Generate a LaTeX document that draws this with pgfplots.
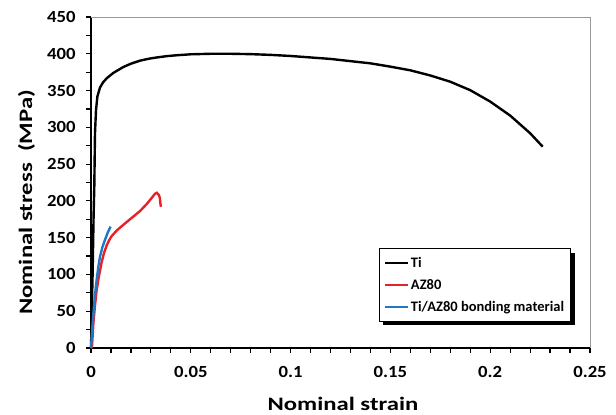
\documentclass[border=0pt]{standalone}
\usepackage{pgfplots}
\pgfplotsset{compat=1.18}
\usepackage{fontspec}
\setmainfont{Carlito}
\newfontfamily\labfont{Carlito}[FakeStretch=1.3]
\newfontfamily\tickfont{Carlito}[FakeStretch=1.1]
\usetikzlibrary{shadows}
\makeatletter
\tikzset{no preactions/.code={\let\tikz@preactions\pgfutil@empty}}
\makeatother
\definecolor{cTi}{HTML}{000000}
\definecolor{cAZ}{HTML}{E8202A}
\definecolor{cBond}{HTML}{2277C4}

\begin{document}
\begin{tikzpicture}
\path[use as bounding box] (0,0) rectangle (616bp,415bp);
\begin{axis}[
    at={(91bp,67bp)}, anchor=south west,
    scale only axis, width=499bp, height=331bp,
    xmin=0, xmax=0.25, ymin=0, ymax=450,
    axis lines*=left,
    axis line style={line width=1.8bp, black},
    xtick={0,0.05,0.1,0.15,0.2,0.25},
    xticklabels={0,0.05,0.1,0.15,0.2,0.25},
    minor x tick num=4,
    ytick={0,50,100,150,200,250,300,350,400,450},
    minor y tick num=1,
    tick align=outside,
    major tick length=5bp, minor tick length=5bp,
    tick style={line width=1.2bp, black},
    /pgf/number format/assume math mode=true,
    tick label style={font=\tickfont\bfseries\fontsize{17bp}{17bp}\selectfont},
    xticklabel style={yshift=-10bp},
    yticklabel style={xshift=-7bp},
    xlabel={Nominal strain},
    ylabel={Nominal stress\ \ (MPa)},
    label style={font=\labfont\bfseries\fontsize{19bp}{19bp}\selectfont},
    xlabel style={at={(axis description cs:0.505,-0.19)}, anchor=base},
    ylabel style={at={(axis description cs:-0.118,0.44)}, anchor=base},
    legend cell align=left,
    legend image code/.code={\draw[no preactions,#1] (0bp,0bp) -- (23bp,0bp);},
    legend style={
      at={(axis description cs:0.962,0.079)}, anchor=south east,
      draw=black, line width=1bp,
      drop shadow={shadow xshift=4bp, shadow yshift=-4bp, opacity=1, fill=black},
      font=\bfseries\fontsize{14.5bp}{14.5bp}\selectfont,
      row sep=6.5bp, inner xsep=4.5bp, inner ysep=6.5bp,
    },
    clip=false,
]

% Ti
\addplot[color=cTi, line width=2.4bp] coordinates {
    (0,0) (0.0008,100) (0.0013,180) (0.00165,219) (0.002,292) (0.0025,323)
    (0.0032,342) (0.0045,354) (0.006,361) (0.008,367) (0.0112,374)
    (0.014,378.5) (0.0162,382) (0.02,386.5) (0.0245,390.6) (0.029,393.3)
    (0.033,395) (0.038,396.8) (0.043,398) (0.05,399.3) (0.06,400)
    (0.07,400) (0.08,399.5) (0.09,398.5) (0.10,397) (0.11,395) (0.12,393)
    (0.13,390) (0.14,387) (0.15,382.5) (0.16,377.5) (0.17,370.5) (0.18,362)
    (0.19,350.5) (0.20,335) (0.21,316) (0.22,292) (0.2263,273.7)
};
\addlegendentry{Ti}

% AZ80
\addplot[color=cAZ, line width=2.4bp] coordinates {
    (0,0) (0.0005,2) (0.0012,34) (0.002,58) (0.0028,78) (0.004,98)
    (0.0053,116) (0.0065,129) (0.0078,139) (0.009,146) (0.0103,152)
    (0.013,160) (0.016,167) (0.02,176) (0.0245,186) (0.028,196)
    (0.031,206) (0.032,209.5) (0.033,211) (0.034,208) (0.0345,204)
    (0.0347,198) (0.035,192)
};
\addlegendentry{AZ80}

% Ti/AZ80 bonding material
\addplot[color=cBond, line width=2.4bp] coordinates {
    (0,0) (0.0006,25) (0.0012,47) (0.002,72) (0.0028,92) (0.0036,109)
    (0.0045,124) (0.0057,137) (0.007,147) (0.0084,157) (0.0098,165)
};
\addlegendentry{Ti/AZ80 bonding material}

\draw[black!40, line width=0.8bp] (rel axis cs:0,1) -- (rel axis cs:1,1) -- (rel axis cs:1,0);
\end{axis}
\end{tikzpicture}
\end{document}
